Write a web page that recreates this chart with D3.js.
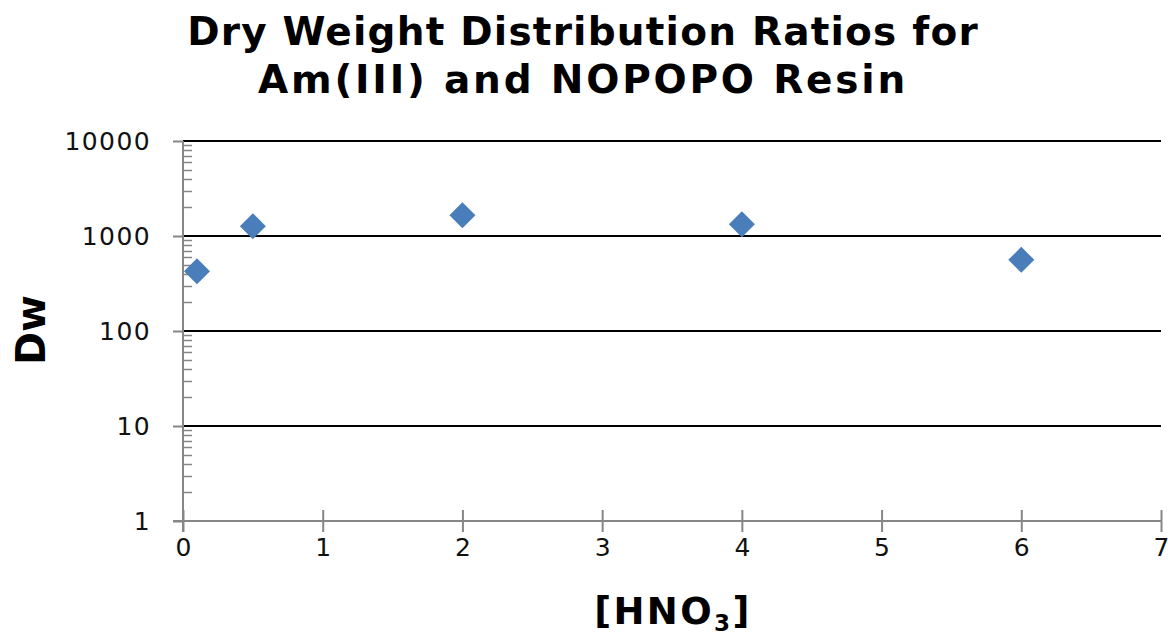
<!DOCTYPE html>
<html>
<head>
<meta charset="utf-8">
<script src="https://cdn.jsdelivr.net/npm/d3@7"></script>
<style>
  body { margin: 0; background: #fff; }
  svg { display: block; font-family: "DejaVu Sans", Verdana, sans-serif; }
</style>
</head>
<body>
<svg></svg>
<script>
// Data
const hno3 = [0.1, 0.5, 2, 4, 6];
const dw = [426, 1268, 1656, 1330, 561];
const xTicks = [0, 1, 2, 3, 4, 5, 6, 7];
const yTicks = [1, 10, 100, 1000, 10000];

const W = 1168, H = 635;
const margin = { top: 141, right: 7, bottom: 114, left: 183 },
  width = W - margin.left - margin.right,
  height = H - margin.top - margin.bottom;

const root = d3.select("svg").attr("width", W).attr("height", H);
const svg = root.append("g").attr("transform", `translate(${margin.left},${margin.top})`);

const x = d3.scaleLinear().domain([0, 7]).range([0, width]);
const y = d3.scaleLog().domain([1, 10000]).range([height, 0]);

const axisColor = "#868686";

// Gridlines
svg.selectAll(".grid")
  .data(yTicks.slice(1))
  .enter()
  .append("line")
  .attr("x1", 0)
  .attr("x2", width)
  .attr("y1", (d) => Math.round(y(d)))
  .attr("y2", (d) => Math.round(y(d)))
  .attr("stroke", "#000")
  .attr("stroke-width", 2);

// Minor ticks (inside)
const minors = [];
yTicks.slice(0, -1).forEach((d) => {
  for (let k = 2; k <= 9; k++) minors.push(d * k);
});
svg.selectAll(".minor")
  .data(minors)
  .enter()
  .append("line")
  .attr("x1", 0)
  .attr("x2", 9)
  .attr("y1", (d) => Math.round(y(d)) + 0.5)
  .attr("y2", (d) => Math.round(y(d)) + 0.5)
  .attr("stroke", axisColor)
  .attr("stroke-width", 1.5);

// Y axis
const yAxis = svg.append("g")
  .call(d3.axisLeft(y).tickValues(yTicks).tickFormat(d3.format("d")).tickSize(10).tickPadding(22))
  .attr("font-family", null)
  .attr("font-size", null);
yAxis.select(".domain").attr("stroke", axisColor).attr("stroke-width", 2)
  .attr("d", `M0,0V${height + 11}`);
yAxis.selectAll(".tick line").attr("stroke", axisColor).attr("stroke-width", 2);
yAxis.selectAll(".tick text").attr("fill", "#111")
  .style("font-size", "25px").style("letter-spacing", "1.4px");

// X axis
const xAxis = svg.append("g")
  .attr("transform", `translate(0,${height})`)
  .call(d3.axisBottom(x).tickValues(xTicks).tickFormat(d3.format("d")).tickSize(11).tickPadding(6))
  .attr("font-family", null)
  .attr("font-size", null);
xAxis.select(".domain").attr("stroke", axisColor).attr("stroke-width", 2)
  .attr("d", `M-10,0H${width}`);
xAxis.selectAll(".tick line").attr("stroke", axisColor).attr("stroke-width", 2).attr("y1", -11);
xAxis.selectAll(".tick text").attr("fill", "#111")
  .style("font-size", "25px");

// Points
const pts = hno3.map((v, i) => ({ x: v, y: dw[i] }));
svg.selectAll(".pt")
  .data(pts)
  .enter()
  .append("path")
  .attr("d", "M0,-13L13,0L0,13L-13,0Z")
  .attr("transform", (d) => `translate(${x(d.x)},${y(d.y)})`)
  .attr("fill", "#4a7ebb");

// Title
const title = root.append("text")
  .attr("text-anchor", "middle")
  .style("font-size", "39px")
  .style("font-weight", "bold");
title.append("tspan").attr("x", 583).attr("y", 45)
  .style("letter-spacing", "1.2px").text("Dry Weight Distribution Ratios for");
title.append("tspan").attr("x", 583).attr("y", 93)
  .style("letter-spacing", "2.8px").text("Am(III) and NOPOPO Resin");

// Axis titles
root.append("text")
  .attr("transform", "translate(45,330) rotate(-90)")
  .attr("text-anchor", "middle")
  .style("font-size", "40px")
  .style("font-weight", "bold")
  .text("Dw");

const xt = root.append("text")
  .attr("x", 673)
  .attr("y", 624)
  .attr("text-anchor", "middle")
  .style("font-size", "37px")
  .style("font-weight", "bold")
  .style("letter-spacing", "2.4px");
xt.append("tspan").text("[HNO");
xt.append("tspan").attr("dy", 7).style("font-size", "23px").text("3");
xt.append("tspan").attr("dy", -7).text("]");
</script>
</body>
</html>
